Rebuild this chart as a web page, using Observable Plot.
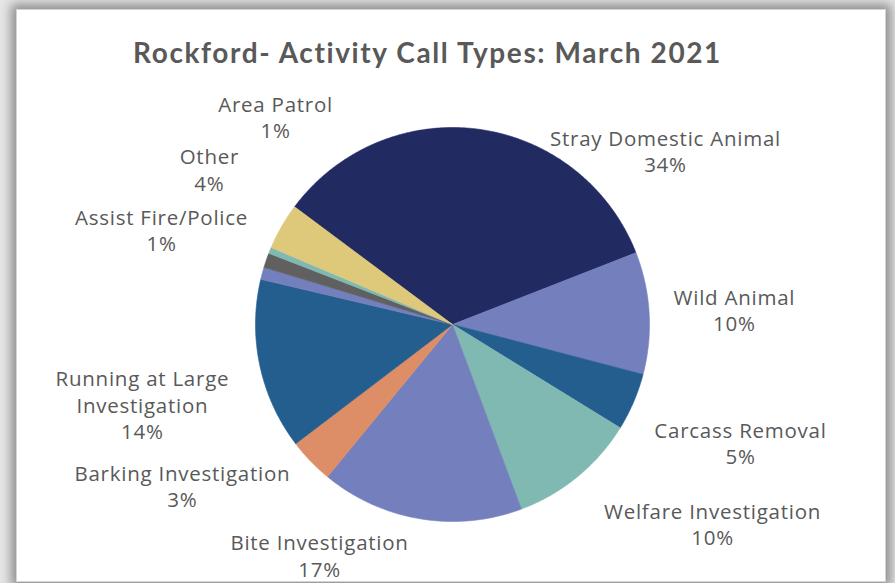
<!DOCTYPE html>
<html>
<head>
<meta charset="utf-8">
<script src="https://cdn.jsdelivr.net/npm/d3@7"></script>
<script src="https://cdn.jsdelivr.net/npm/@observablehq/plot@0.6"></script>
<style>
  html, body { margin: 0; padding: 0; background: #ffffff; }
  #wrap { position: relative; width: 895px; height: 583px; overflow: hidden; background: #e6e6e6; }
  #frame { position: absolute; left: 16px; top: 9px; width: 868px; height: 571px; background: #ffffff;
           border: 1px solid #d4d4d4; box-shadow: 0 0 10px 5px rgba(0,0,0,0.38); }
  #title { position: absolute; left: 0; top: 33px; width: 855px; text-align: center;
           font-family: Lato, "Open Sans", sans-serif; font-weight: 700; font-size: 28px;
           letter-spacing: 1.6px; color: #595959; line-height: 38px; }
  #chart { position: absolute; left: 0; top: 0; }
  #chart svg text { letter-spacing: 0.75px; }
</style>
</head>
<body>
<div id="wrap">
  <div id="frame"></div>
  <div id="title">Rockford- Activity Call Types: March 2021</div>
  <div id="chart"></div>
</div>
<script>
// ---- data ----
const categories = [
  "Stray Domestic Animal", "Wild Animal", "Carcass Removal", "Welfare Investigation",
  "Bite Investigation", "Barking Investigation", "Running at Large Investigation",
  "Assist Fire/Police", "Area Patrol", "Unlabeled", "Other"
];
const shares = [33.8, 10.0, 4.7, 10.5, 16.6, 3.7, 14.0, 1.0, 1.2, 0.5, 3.8];
const pctLabels = ["34%", "10%", "5%", "10%", "17%", "3%", "14%", "1%", "1%", "", "4%"];
const labelNames = [
  "Stray Domestic Animal", "Wild Animal", "Carcass Removal", "Welfare Investigation",
  "Bite Investigation", "Barking Investigation", "Running at Large\nInvestigation",
  "Assist Fire/Police", "Area Patrol", "", "Other"
];

// ---- styles / layout ----
const colors = ["#212A61", "#7480BE", "#245E8F", "#7FB9B2", "#7480BE", "#DE8E66",
                "#245E8F", "#7480BE", "#606060", "#7FB9B2", "#DEC97B"];
// label block centres, in units of the pie radius relative to the pie centre (y down)
const labelAnchors = [
  [1.081, -0.883], [1.431, -0.076], [1.462, 0.599], [1.320, 1.010],
  [-0.675, 1.170], [-1.371, 0.817], [-1.574, 0.404], [-1.477, -0.482],
  [-0.898, -1.056], null, [-1.234, -0.789]
];
const W = 895, H = 583, CX = 452, CY = 324, R = 197;
const startDeg = -53.3;

// ---- geometry from data ----
const pie = d3.pie().sort(null).value(d => d.share)
  .startAngle(startDeg * Math.PI / 180)
  .endAngle(startDeg * Math.PI / 180 + 2 * Math.PI);
const rows = categories.map((c, i) => ({category: c, share: shares[i]}));
const arcs = pie(rows);
const slicePts = [];
for (const a of arcs) {
  const c = a.data.category;
  slicePts.push({category: c, x: 0, y: 0});
  const n = Math.max(2, Math.ceil((a.endAngle - a.startAngle) / (0.4 * Math.PI / 180)));
  for (let k = 0; k <= n; k++) {
    const t = a.startAngle + (a.endAngle - a.startAngle) * k / n;
    slicePts.push({category: c, x: Math.sin(t), y: -Math.cos(t)});
  }
  slicePts.push({category: c, x: 0, y: 0});
}
const labels = categories.map((c, i) => labelAnchors[i] && labelNames[i] ? {
  category: c, x: labelAnchors[i][0], y: labelAnchors[i][1],
  text: labelNames[i] + "\n" + pctLabels[i]
} : null).filter(Boolean);

const chart = Plot.plot({
  width: W, height: H, margin: 0,
  x: {domain: [-CX / R, (W - CX) / R], range: [0, W], axis: null},
  y: {domain: [-CY / R, (H - CY) / R], range: [0, H], axis: null},
  color: {domain: categories, range: colors},
  style: {background: "transparent", overflow: "visible"},
  marks: [
    Plot.line(slicePts, {x: "x", y: "y", z: "category", fill: "category", stroke: "category",
                         strokeWidth: 0.6, curve: "linear"}),
    Plot.text(labels, {x: "x", y: "y", text: "text", fill: "#595959", fontSize: 20.5,
                       lineHeight: 1.3, lineAnchor: "middle", textAnchor: "middle",
                       fontFamily: "'Open Sans', sans-serif", fontWeight: 400})
  ]
});
document.getElementById("chart").appendChild(chart);
</script>
</body>
</html>
